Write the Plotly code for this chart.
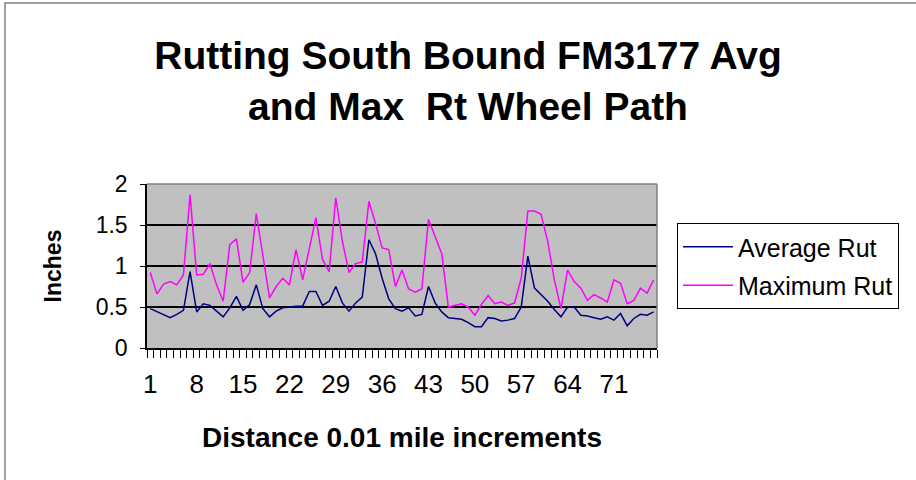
import plotly.graph_objects as go

# Rut depth readings, one per 0.01 mile station
distance = list(range(1, 78))
average_rut = [
    0.48, 0.44, 0.41, 0.37, 0.41, 0.46, 0.93, 0.44, 0.54, 0.52,
    0.45, 0.38, 0.49, 0.63, 0.46, 0.53, 0.77, 0.48, 0.38, 0.45,
    0.49, 0.50, 0.51, 0.51, 0.69, 0.69, 0.52, 0.57, 0.75, 0.55,
    0.45, 0.55, 0.62, 1.32, 1.15, 0.85, 0.60, 0.48, 0.45, 0.49,
    0.39, 0.41, 0.75, 0.55, 0.44, 0.37, 0.36, 0.35, 0.31, 0.26,
    0.26, 0.37, 0.36, 0.33, 0.34, 0.36, 0.50, 1.12, 0.73, 0.65,
    0.57, 0.47, 0.38, 0.50, 0.50, 0.40, 0.39, 0.37, 0.35, 0.38,
    0.34, 0.42, 0.27, 0.36, 0.41, 0.40, 0.44,
]
maximum_rut = [
    0.92, 0.66, 0.78, 0.81, 0.77, 0.89, 1.87, 0.89, 0.90, 1.03,
    0.77, 0.57, 1.26, 1.33, 0.80, 0.92, 1.64, 1.10, 0.61, 0.75,
    0.85, 0.77, 1.20, 0.83, 1.22, 1.59, 1.08, 0.93, 1.83, 1.30,
    0.92, 1.03, 1.05, 1.79, 1.52, 1.22, 1.20, 0.75, 0.95, 0.72,
    0.68, 0.72, 1.57, 1.35, 1.15, 0.50, 0.52, 0.54, 0.50, 0.40,
    0.53, 0.64, 0.54, 0.56, 0.52, 0.55, 0.85, 1.67, 1.67, 1.63,
    1.30, 0.83, 0.48, 0.95, 0.81, 0.73, 0.58, 0.65, 0.61, 0.56,
    0.83, 0.79, 0.54, 0.58, 0.73, 0.67, 0.83,
]
x_tick_values = [1, 8, 15, 22, 29, 36, 43, 50, 57, 64, 71]
x_tick_labels = [str(v) for v in x_tick_values]
y_tick_values = [0, 0.5, 1, 1.5, 2]
y_tick_labels = ["0", "0.5", "1", "1.5", "2"]

W, H = 916, 480
ML, MR, MT, MB = 147, 259, 184, 132
PW, PH = W - ML - MR, H - MT - MB

FONT = "Liberation Sans, Arial, sans-serif"

fig = go.Figure()
fig.add_trace(go.Scatter(
    x=distance, y=average_rut, mode="lines", name="Average Rut",
    legendgroup="avg", line=dict(color="#000080", width=1.5),
))
fig.add_trace(go.Scatter(
    x=distance, y=maximum_rut, mode="lines", name="Maximum Rut",
    legendgroup="max", line=dict(color="#FF00FF", width=1.5),
))


def px_x(p):
    return (p - ML) / PW


def px_y(p):
    return (H - MB - p) / PH


shapes = [
    # top and right edges of the plot area
    dict(type="line", xref="paper", yref="paper", x0=0, x1=1, y0=1, y1=1,
         line=dict(color="#808080", width=1.5), layer="above"),
    dict(type="line", xref="paper", yref="paper", x0=1, x1=1, y0=0, y1=1,
         line=dict(color="#808080", width=1.5), layer="above"),
    # chart frame
    dict(type="rect", xref="paper", yref="paper",
         x0=px_x(5), x1=px_x(W + 10), y0=px_y(H + 10), y1=px_y(3),
         line=dict(color="#808080", width=1.5), fillcolor="rgba(0,0,0,0)"),
]

fig.update_layout(
    width=W, height=H,
    margin=dict(l=ML, r=MR, t=MT, b=MB, pad=0),
    paper_bgcolor="white",
    plot_bgcolor="#C0C0C0",
    font=dict(family=FONT, color="black", size=24),
    title=dict(
        text="Rutting South Bound FM3177 Avg<br>and Max\u00a0 Rt Wheel Path",
        x=468 / W, xanchor="center",
        y=1 - 69 / H, yanchor="middle", yref="container",
        font=dict(family=FONT, size=39, weight="bold", color="black"),
    ),
    showlegend=True,
    legend=dict(
        x=px_x(677), xanchor="left",
        y=px_y(223), yanchor="top",
        bordercolor="black", borderwidth=1, bgcolor="white",
        font=dict(family=FONT, size=25, color="black"),
        itemwidth=50, tracegroupgap=3,
    ),
    shapes=shapes,
)

fig.update_xaxes(
    range=[0.5, 77.5],
    tickmode="array", tickvals=x_tick_values, ticktext=x_tick_labels,
    ticks="", ticklabelstandoff=12,
    tickfont=dict(family=FONT, size=26, color="black"),
    minor=dict(ticks="outside", ticklen=8, tickwidth=1, tickcolor="black",
               tickmode="linear", tick0=0.5, dtick=1, showgrid=False),
    showgrid=False, zeroline=False,
    showline=True, linecolor="black", linewidth=1.5,
    title=dict(text="Distance 0.01 mile increments", standoff=29,
               font=dict(family=FONT, size=28, weight="bold", color="black")),
)
fig.update_yaxes(
    range=[0, 2],
    tickmode="array", tickvals=y_tick_values, ticktext=y_tick_labels,
    ticks="outside", ticklen=5, tickcolor="black",
    ticklabelstandoff=8,
    tickfont=dict(family=FONT, size=23, color="black"),
    showgrid=True, gridcolor="black", gridwidth=1.5,
    zeroline=False,
    showline=True, linecolor="black", linewidth=1.5,
    title=dict(text="Inches", standoff=28,
               font=dict(family=FONT, size=23, weight="bold", color="black")),
)

fig.write_html("out.html")
